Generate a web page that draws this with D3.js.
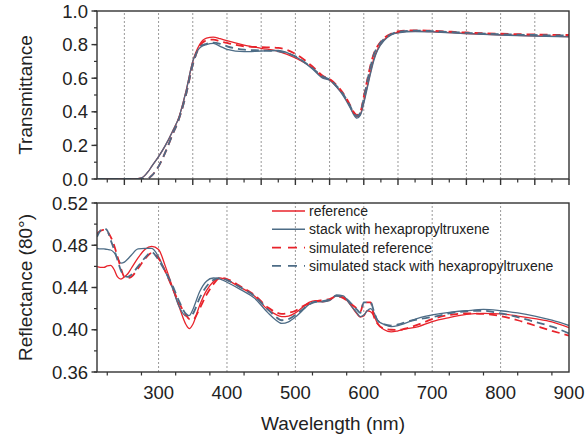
<!DOCTYPE html>
<html>
<head>
<meta charset="utf-8">
<script src="https://cdn.jsdelivr.net/npm/d3@7"></script>
<style>
    body { margin: 0; background: #fff; }
    svg { display: block; font-family: "Liberation Sans", Arial, sans-serif; }
</style>
</head>
<body>
<script>
// Wavelength grids (nm) for the two panels
var wlTop = [210, 250, 265, 275, 285, 290, 300, 310, 320, 330, 340, 350,
    360, 370, 380, 390, 400, 425, 450, 475, 500, 525, 540, 550, 560, 570,
    580, 585, 590, 595, 600, 605, 610, 615, 620, 630, 640, 650, 675, 700,
    750, 800, 850, 900];

// Transmittance, one value per wlTop entry
var tReference = [0, 0, 0, 0.006, 0.045, 0.075, 0.133, 0.2, 0.28, 0.37,
    0.52, 0.70, 0.80, 0.838, 0.845, 0.835, 0.823, 0.797, 0.778, 0.76, 0.72,
    0.66, 0.605, 0.59, 0.55, 0.50, 0.43, 0.39, 0.37, 0.385, 0.46, 0.55, 0.64,
    0.72, 0.77, 0.83, 0.86, 0.872, 0.88, 0.877, 0.866, 0.858, 0.852, 0.847];
var tStack = [0, 0, 0, 0.006, 0.045, 0.075, 0.133, 0.2, 0.28, 0.37,
    0.52, 0.70, 0.78, 0.80, 0.807, 0.79, 0.772, 0.758, 0.762, 0.765, 0.728,
    0.655, 0.60, 0.588, 0.548, 0.495, 0.425, 0.385, 0.362, 0.38, 0.45, 0.54,
    0.63, 0.71, 0.765, 0.825, 0.857, 0.87, 0.878, 0.876, 0.865, 0.857,
    0.851, 0.846];
var tSimReference = [0, 0, 0, 0, 0.004, 0.02, 0.075, 0.16, 0.26, 0.36,
    0.50, 0.68, 0.79, 0.825, 0.83, 0.82, 0.81, 0.79, 0.785, 0.78, 0.745,
    0.67, 0.615, 0.595, 0.56, 0.51, 0.44, 0.40, 0.38, 0.40, 0.49, 0.59, 0.68,
    0.75, 0.79, 0.84, 0.865, 0.878, 0.885, 0.882, 0.872, 0.865, 0.86, 0.857];
var tSimStack = [0, 0, 0, 0, 0.004, 0.02, 0.075, 0.16, 0.26, 0.36,
    0.50, 0.68, 0.785, 0.805, 0.812, 0.805, 0.79, 0.77, 0.765, 0.76, 0.73,
    0.66, 0.61, 0.592, 0.555, 0.505, 0.435, 0.395, 0.375, 0.395, 0.48, 0.58,
    0.67, 0.745, 0.785, 0.835, 0.862, 0.875, 0.883, 0.88, 0.87, 0.862,
    0.857, 0.854];

var wlBottom = [210, 215, 220, 225, 230, 235, 240, 245, 250, 255, 260, 270,
    280, 290, 300, 310, 320, 330, 340, 345, 350, 360, 370, 380, 390, 400,
    420, 440, 460, 470, 480, 490, 500, 510, 520, 530, 540, 550, 560, 570,
    580, 590, 595, 600, 605, 610, 615, 620, 630, 640, 650, 660, 680, 700,
    725, 750, 775, 800, 825, 850, 875, 900];

// Reflectance at 80 degrees, one value per wlBottom entry
var rReference = [0.4597, 0.459, 0.459, 0.4605, 0.461, 0.457, 0.450, 0.448,
    0.450, 0.453, 0.458, 0.468, 0.476, 0.479, 0.476, 0.460, 0.441, 0.422,
    0.405, 0.401, 0.405, 0.423, 0.437, 0.4455, 0.449, 0.447, 0.440, 0.432,
    0.419, 0.415, 0.4125, 0.413, 0.416, 0.421, 0.426, 0.4275, 0.4265, 0.428,
    0.432, 0.431, 0.424, 0.415, 0.412, 0.413, 0.418, 0.417, 0.413, 0.406,
    0.400, 0.398, 0.399, 0.4005, 0.403, 0.4077, 0.4115, 0.4145, 0.4155,
    0.415, 0.413, 0.4105, 0.4075, 0.402];
var rStack = [0.477, 0.4765, 0.4765, 0.476, 0.4755, 0.473, 0.468, 0.463,
    0.464, 0.467, 0.4705, 0.4765, 0.477, 0.477, 0.469, 0.455, 0.440, 0.422,
    0.413, 0.4135, 0.419, 0.436, 0.446, 0.449, 0.448, 0.445, 0.438, 0.430,
    0.416, 0.410, 0.406, 0.4075, 0.412, 0.418, 0.424, 0.4265, 0.4265, 0.4275,
    0.433, 0.432, 0.424, 0.416, 0.4125, 0.414, 0.418, 0.420, 0.416, 0.409,
    0.405, 0.403, 0.404, 0.406, 0.411, 0.414, 0.4165, 0.418, 0.4192, 0.418,
    0.416, 0.413, 0.409, 0.404];
var rSimReference = [0.491, 0.4935, 0.4945, 0.493, 0.488, 0.480, 0.469,
    0.458, 0.450, 0.449, 0.450, 0.458, 0.467, 0.4725, 0.4675, 0.455, 0.440,
    0.4255, 0.414, 0.410, 0.4095, 0.420, 0.433, 0.443, 0.449, 0.448, 0.441,
    0.433, 0.421, 0.417, 0.415, 0.416, 0.418, 0.422, 0.425, 0.427, 0.428,
    0.429, 0.4315, 0.430, 0.425, 0.420, 0.417, 0.426, 0.426, 0.426, 0.412,
    0.406, 0.401, 0.400, 0.3998, 0.401, 0.405, 0.410, 0.414, 0.4155, 0.415,
    0.413, 0.409, 0.404, 0.399, 0.3945];
var rSimStack = [0.488, 0.494, 0.496, 0.494, 0.485, 0.476, 0.466, 0.456,
    0.451, 0.450, 0.452, 0.460, 0.468, 0.4735, 0.466, 0.455, 0.4425, 0.427,
    0.415, 0.413, 0.415, 0.430, 0.441, 0.447, 0.449, 0.447, 0.440, 0.432,
    0.419, 0.413, 0.409, 0.410, 0.414, 0.419, 0.424, 0.4265, 0.427, 0.4285,
    0.432, 0.431, 0.426, 0.419, 0.416, 0.426, 0.426, 0.426, 0.417, 0.409,
    0.405, 0.404, 0.405, 0.407, 0.410, 0.412, 0.4155, 0.4175, 0.418, 0.4155,
    0.412, 0.4075, 0.403, 0.3965];

var seriesNames = ["reference", "stack with hexapropyltruxene",
    "simulated reference", "simulated stack with hexapropyltruxene"];
var seriesColors = ["#e8232b", "#4d6c86", "#e8232b", "#4d6c86"];
var seriesDashed = [false, false, true, true];

var topTicks = [0, 0.2, 0.4, 0.6, 0.8, 1.0];
var bottomTicks = [0.36, 0.40, 0.44, 0.48, 0.52];
var xTicks = [300, 400, 500, 600, 700, 800, 900];

var W = 587, H = 440;
var left = 97, right = 569;
var topPanel = {y0: 11, y1: 179};
var botPanel = {y0: 203, y1: 372};
var axisColor = "#333";

var svg = d3.select("body").append("svg")
    .attr("width", W)
    .attr("height", H);

var xScale = d3.scaleLinear().domain([210, 900]).range([left, right]);
var yTop = d3.scaleLinear().domain([0, 1]).range([topPanel.y1, topPanel.y0]);
var yBot = d3.scaleLinear().domain([0.36, 0.52])
    .range([botPanel.y1, botPanel.y0]);

// clip paths so curves stay inside each frame
var defs = svg.append("defs");
[["clipTop", topPanel], ["clipBot", botPanel]].forEach(function(c) {
    defs.append("clipPath").attr("id", c[0])
        .append("rect")
        .attr("x", left).attr("y", c[1].y0)
        .attr("width", right - left).attr("height", c[1].y1 - c[1].y0);
});

// dotted vertical grid: every 50 nm on top, every 100 nm below
function drawGrid(yScale, start, step) {
    var g = svg.append("g");
    d3.range(start, 900, step).forEach(function(v) {
        g.append("line")
            .attr("x1", xScale(v)).attr("x2", xScale(v))
            .attr("y1", yScale.range()[0]).attr("y2", yScale.range()[1])
            .attr("stroke", "#999")
            .attr("stroke-width", 1)
            .attr("stroke-dasharray", "2,2");
    });
}

function drawCurves(wl, seriesList, yScale, clipId) {
    var line = d3.line()
        .x(function(d) { return xScale(d[0]); })
        .y(function(d) { return yScale(d[1]); })
        .curve(d3.curveMonotoneX);
    var g = svg.append("g").attr("clip-path", "url(#" + clipId + ")");
    seriesList.forEach(function(vals, i) {
        var pts = wl.map(function(w, k) { return [w, vals[k]]; });
        g.append("path")
            .attr("d", line(pts))
            .attr("fill", "none")
            .attr("stroke", seriesColors[i])
            .attr("stroke-width", seriesDashed[i] ? 1.8 : 1.3)
            .attr("stroke-dasharray", seriesDashed[i] ? "8,5" : null);
    });
}

function drawFrame(panel) {
    svg.append("rect")
        .attr("x", left).attr("y", panel.y0)
        .attr("width", right - left).attr("height", panel.y1 - panel.y0)
        .attr("fill", "none")
        .attr("stroke", axisColor)
        .attr("stroke-width", 1.4);
}

function drawYAxis(yScale, ticks, minorStep, fmt) {
    var g = svg.append("g");
    var d = yScale.domain();
    d3.range(d[0], d[1] + 1e-9, minorStep).forEach(function(v) {
        g.append("line")
            .attr("x1", left - 3).attr("x2", left)
            .attr("y1", yScale(v)).attr("y2", yScale(v))
            .attr("stroke", axisColor).attr("stroke-width", 1.2);
    });
    ticks.forEach(function(v) {
        g.append("line")
            .attr("x1", left - 5.5).attr("x2", left)
            .attr("y1", yScale(v)).attr("y2", yScale(v))
            .attr("stroke", axisColor).attr("stroke-width", 1.4);
        g.append("text")
            .attr("x", left - 9)
            .attr("y", yScale(v) + 6.5)
            .attr("text-anchor", "end")
            .attr("font-size", "18.5px")
            .attr("fill", "#222")
            .text(fmt(v));
    });
}

function drawXTicks(y, majorStep, minorStep) {
    var g = svg.append("g");
    d3.range(225, 901, minorStep).forEach(function(v) {
        var major = v % majorStep === 0;
        g.append("line")
            .attr("x1", xScale(v)).attr("x2", xScale(v))
            .attr("y1", y).attr("y2", y + (major ? 6 : 3.5))
            .attr("stroke", axisColor)
            .attr("stroke-width", major ? 1.4 : 1.2);
    });
}

// top panel: transmittance
drawGrid(yTop, 250, 50);
drawCurves(wlTop, [tReference, tStack, tSimReference, tSimStack],
    yTop, "clipTop");
drawFrame(topPanel);
drawYAxis(yTop, topTicks, 0.1, d3.format(".1f"));
drawXTicks(topPanel.y1, 50, 25);

// bottom panel: reflectance
drawGrid(yBot, 300, 100);
drawCurves(wlBottom, [rReference, rStack, rSimReference, rSimStack],
    yBot, "clipBot");
drawFrame(botPanel);
drawYAxis(yBot, bottomTicks, 0.02, d3.format(".2f"));
drawXTicks(botPanel.y1, 100, 50);

xTicks.forEach(function(v) {
    svg.append("text")
        .attr("x", xScale(v))
        .attr("y", botPanel.y1 + 27)
        .attr("text-anchor", "middle")
        .attr("font-size", "18.5px")
        .attr("fill", "#222")
        .text(v);
});

// axis titles
svg.append("text")
    .attr("transform", "translate(32," + (topPanel.y0 + topPanel.y1) / 2 +
        ") rotate(-90)")
    .attr("text-anchor", "middle")
    .attr("font-size", "19px")
    .attr("fill", "#222")
    .text("Transmittance");

svg.append("text")
    .attr("transform", "translate(32," + (botPanel.y0 + botPanel.y1) / 2 +
        ") rotate(-90)")
    .attr("text-anchor", "middle")
    .attr("font-size", "19px")
    .attr("fill", "#222")
    .text("Reflectance (80°)");

svg.append("text")
    .attr("x", (left + right) / 2)
    .attr("y", 430)
    .attr("text-anchor", "middle")
    .attr("font-size", "19px")
    .attr("fill", "#222")
    .text("Wavelength (nm)");

// legend inside the bottom panel
var legend = svg.append("g");
seriesNames.forEach(function(name, i) {
    var ly = 211 + i * 18.3;
    legend.append("line")
        .attr("x1", 272).attr("x2", 305)
        .attr("y1", ly).attr("y2", ly)
        .attr("stroke", seriesColors[i])
        .attr("stroke-width", seriesDashed[i] ? 1.8 : 1.5)
        .attr("stroke-dasharray", seriesDashed[i] ? "9,7" : null);
    legend.append("text")
        .attr("x", 309)
        .attr("y", ly + 5)
        .attr("font-size", "14px")
        .attr("fill", "#222")
        .text(name);
});
</script>
</body>
</html>
